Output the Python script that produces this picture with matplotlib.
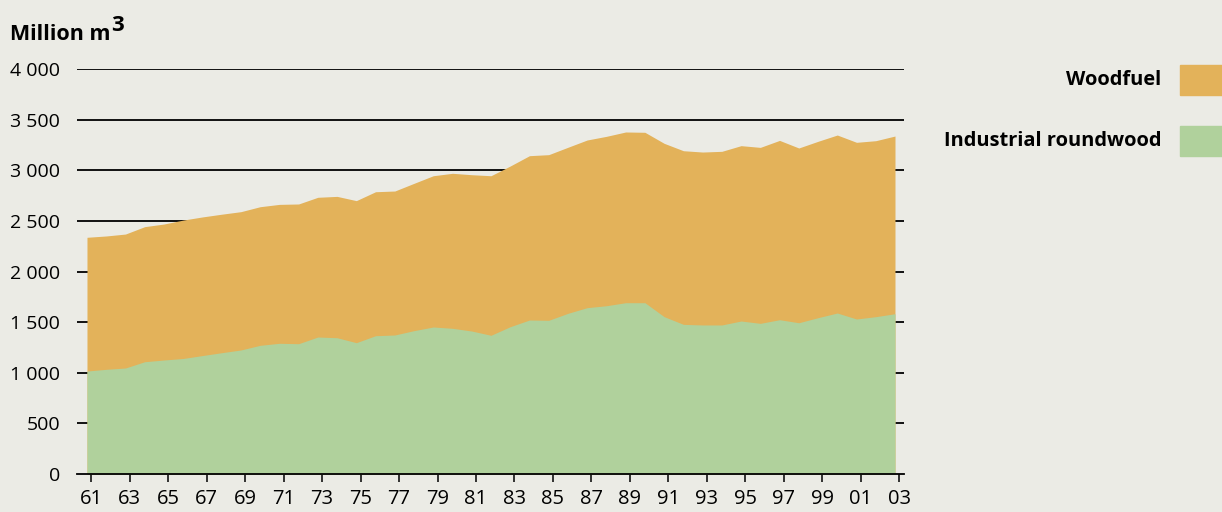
import matplotlib
matplotlib.use("Agg")
import matplotlib.pyplot as plt
import numpy as np

plt.rcParams['font.family'] = ['Open Sans', 'DejaVu Sans']

years = np.arange(1961, 2004)
industrial = [1017, 1034, 1047, 1109, 1126, 1141, 1170, 1198, 1225, 1271,
              1291, 1287, 1353, 1346, 1297, 1366, 1373, 1416, 1452, 1439,
              1412, 1370, 1455, 1521, 1518, 1587, 1643, 1662, 1692, 1692,
              1554, 1478, 1472, 1472, 1511, 1488, 1524, 1494, 1544, 1590,
              1531, 1554, 1583]
woodfuel = [1321, 1317, 1323, 1334, 1343, 1367, 1369, 1368, 1366, 1369,
            1372, 1380, 1380, 1396, 1403, 1422, 1422, 1455, 1494, 1531,
            1544, 1576, 1587, 1623, 1636, 1640, 1656, 1673, 1686, 1683,
            1712, 1715, 1708, 1715, 1732, 1738, 1771, 1726, 1742, 1758,
            1745, 1738, 1755]
tick_years = np.arange(1961, 2004, 2)
tick_labels = [str(y)[-2:] for y in tick_years]
y_ticks = np.arange(0, 4001, 500)
y_labels = ['0', '500', '1 000', '1 500', '2 000', '2 500', '3 000', '3 500', '4 000']

bg = '#EBEBE5'
c_wood = '#E3B25A'
c_ind = '#B0D19C'

fig = plt.figure(figsize=(12.22, 5.12), dpi=100, facecolor=bg)
ax = fig.add_axes([0.063, 0.0742, 0.6768, 0.791])
ax.set_facecolor(bg)

# stacked areas: total first, industrial painted over it so no seam shows
total = np.array(industrial) + np.array(woodfuel)
ax.fill_between(years, 0, total, color=c_wood, lw=0, zorder=2)
ax.fill_between(years, 0, industrial, color=c_ind, lw=0, zorder=2.1)

for v in y_ticks[1:]:
    ax.axhline(v, color='black', lw=1.3, zorder=1)

ax.set_xlim(1960.48, 2003.47)
ax.set_ylim(0, 4000)

for s in ['left', 'right', 'top']:
    ax.spines[s].set_visible(False)
ax.spines['bottom'].set_linewidth(1.3)
ax.spines['bottom'].set_zorder(3)

ax.set_xticks(tick_years + 0.22)
ax.set_xticklabels(tick_labels, fontsize=14.5)
ax.tick_params(axis='x', length=6, width=1.1, pad=5, colors='black')
ax.set_yticks(y_ticks)
ax.set_yticklabels(y_labels, fontsize=14)
ax.tick_params(axis='y', length=0, pad=12)

t = fig.text(10 / 1222, 1 - 40 / 512, 'Million m', fontsize=15.5, fontweight='bold',
             ha='left', va='baseline')
fig.canvas.draw()
bb = t.get_window_extent()
fig.text((bb.x1 + 0.5) / 1222, 1 - 31 / 512, '3', fontsize=16, fontweight='bold',
         ha='left', va='baseline')

# legend on the right
legend = [('Woodfuel', c_wood, 80), ('Industrial roundwood', c_ind, 141)]
for label, col, yc in legend:
    fig.text(1161 / 1222, 1 - yc / 512, label, fontsize=14.4, fontweight='bold',
             ha='right', va='center')
    fig.patches.append(plt.Rectangle((1180 / 1222, 1 - (yc + 15) / 512), 42 / 1222, 30 / 512,
                                     transform=fig.transFigure, color=col, figure=fig))

fig.savefig('out.png', dpi=100, facecolor=bg)
